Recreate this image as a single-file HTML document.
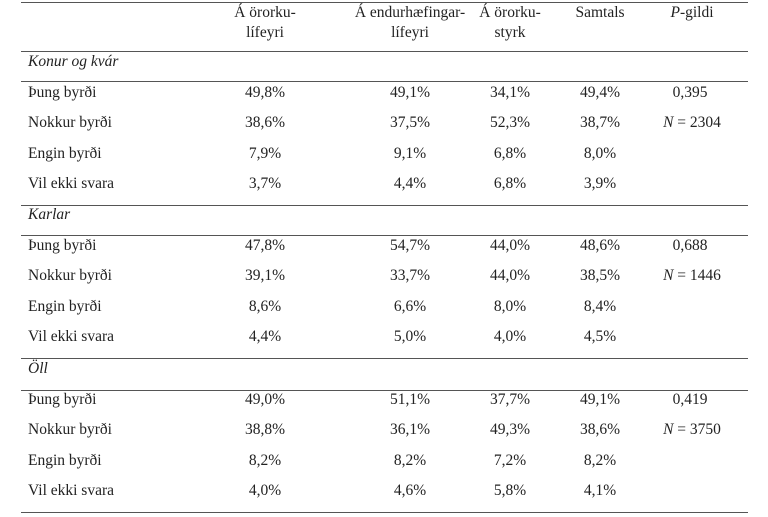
<!DOCTYPE html>
<html><head><meta charset="utf-8"><style>
body{margin:0;width:768px;height:517px;background:#fff;position:relative;overflow:hidden;font-family:"Liberation Serif",serif;font-size:15.5px;color:#222}
.l{position:absolute;left:21px;width:727px;height:1.3px;background:#555}
.t{position:absolute;white-space:nowrap;transform:translate(-50%,-50%);text-align:center;line-height:20px}
.s{position:absolute;white-space:nowrap;transform:translateY(-50%);left:28px;line-height:20px}
i{font-style:italic}
</style></head><body>
<div class="l" style="top:2px"></div>
<div class="l" style="top:51px"></div>
<div class="l" style="top:81px"></div>
<div class="l" style="top:205px"></div>
<div class="l" style="top:235px"></div>
<div class="l" style="top:358px"></div>
<div class="l" style="top:390px"></div>
<div class="l" style="top:512px"></div>

<div class="t" style="left:265px;top:13px">Á örorku-</div>
<div class="t" style="left:265px;top:33px">lífeyri</div>
<div class="t" style="left:410px;top:13px">Á endurhæfingar-</div>
<div class="t" style="left:410px;top:33px">lífeyri</div>
<div class="t" style="left:510px;top:13px">Á örorku-</div>
<div class="t" style="left:510px;top:33px">styrk</div>
<div class="t" style="left:600px;top:13px">Samtals</div>
<div class="t" style="left:692px;top:13px"><i>P</i>-gildi</div>

<div class="s" style="top:62px"><i>Konur og kvár</i></div>
<div class="s" style="top:215px"><i>Karlar</i></div>
<div class="s" style="top:369px"><i>Öll</i></div>

<div class="s" style="top:93px">Þung byrði</div>
<div class="s" style="top:123px">Nokkur byrði</div>
<div class="s" style="top:154px">Engin byrði</div>
<div class="s" style="top:184px">Vil ekki svara</div>
<div class="s" style="top:246px">Þung byrði</div>
<div class="s" style="top:276px">Nokkur byrði</div>
<div class="s" style="top:307px">Engin byrði</div>
<div class="s" style="top:337px">Vil ekki svara</div>
<div class="s" style="top:400px">Þung byrði</div>
<div class="s" style="top:430px">Nokkur byrði</div>
<div class="s" style="top:461px">Engin byrði</div>
<div class="s" style="top:491px">Vil ekki svara</div>

<div class="t" style="left:265px;top:93px">49,8%</div><div class="t" style="left:410px;top:93px">49,1%</div><div class="t" style="left:510px;top:93px">34,1%</div><div class="t" style="left:600px;top:93px">49,4%</div><div class="t" style="left:690px;top:93px">0,395</div>
<div class="t" style="left:265px;top:123px">38,6%</div><div class="t" style="left:410px;top:123px">37,5%</div><div class="t" style="left:510px;top:123px">52,3%</div><div class="t" style="left:600px;top:123px">38,7%</div><div class="t" style="left:692px;top:123px"><i>N</i> = 2304</div>
<div class="t" style="left:265px;top:154px">7,9%</div><div class="t" style="left:410px;top:154px">9,1%</div><div class="t" style="left:510px;top:154px">6,8%</div><div class="t" style="left:600px;top:154px">8,0%</div>
<div class="t" style="left:265px;top:184px">3,7%</div><div class="t" style="left:410px;top:184px">4,4%</div><div class="t" style="left:510px;top:184px">6,8%</div><div class="t" style="left:600px;top:184px">3,9%</div>
<div class="t" style="left:265px;top:246px">47,8%</div><div class="t" style="left:410px;top:246px">54,7%</div><div class="t" style="left:510px;top:246px">44,0%</div><div class="t" style="left:600px;top:246px">48,6%</div><div class="t" style="left:690px;top:246px">0,688</div>
<div class="t" style="left:265px;top:276px">39,1%</div><div class="t" style="left:410px;top:276px">33,7%</div><div class="t" style="left:510px;top:276px">44,0%</div><div class="t" style="left:600px;top:276px">38,5%</div><div class="t" style="left:692px;top:276px"><i>N</i> = 1446</div>
<div class="t" style="left:265px;top:307px">8,6%</div><div class="t" style="left:410px;top:307px">6,6%</div><div class="t" style="left:510px;top:307px">8,0%</div><div class="t" style="left:600px;top:307px">8,4%</div>
<div class="t" style="left:265px;top:337px">4,4%</div><div class="t" style="left:410px;top:337px">5,0%</div><div class="t" style="left:510px;top:337px">4,0%</div><div class="t" style="left:600px;top:337px">4,5%</div>
<div class="t" style="left:265px;top:400px">49,0%</div><div class="t" style="left:410px;top:400px">51,1%</div><div class="t" style="left:510px;top:400px">37,7%</div><div class="t" style="left:600px;top:400px">49,1%</div><div class="t" style="left:690px;top:400px">0,419</div>
<div class="t" style="left:265px;top:430px">38,8%</div><div class="t" style="left:410px;top:430px">36,1%</div><div class="t" style="left:510px;top:430px">49,3%</div><div class="t" style="left:600px;top:430px">38,6%</div><div class="t" style="left:692px;top:430px"><i>N</i> = 3750</div>
<div class="t" style="left:265px;top:461px">8,2%</div><div class="t" style="left:410px;top:461px">8,2%</div><div class="t" style="left:510px;top:461px">7,2%</div><div class="t" style="left:600px;top:461px">8,2%</div>
<div class="t" style="left:265px;top:491px">4,0%</div><div class="t" style="left:410px;top:491px">4,6%</div><div class="t" style="left:510px;top:491px">5,8%</div><div class="t" style="left:600px;top:491px">4,1%</div>
</body></html>
